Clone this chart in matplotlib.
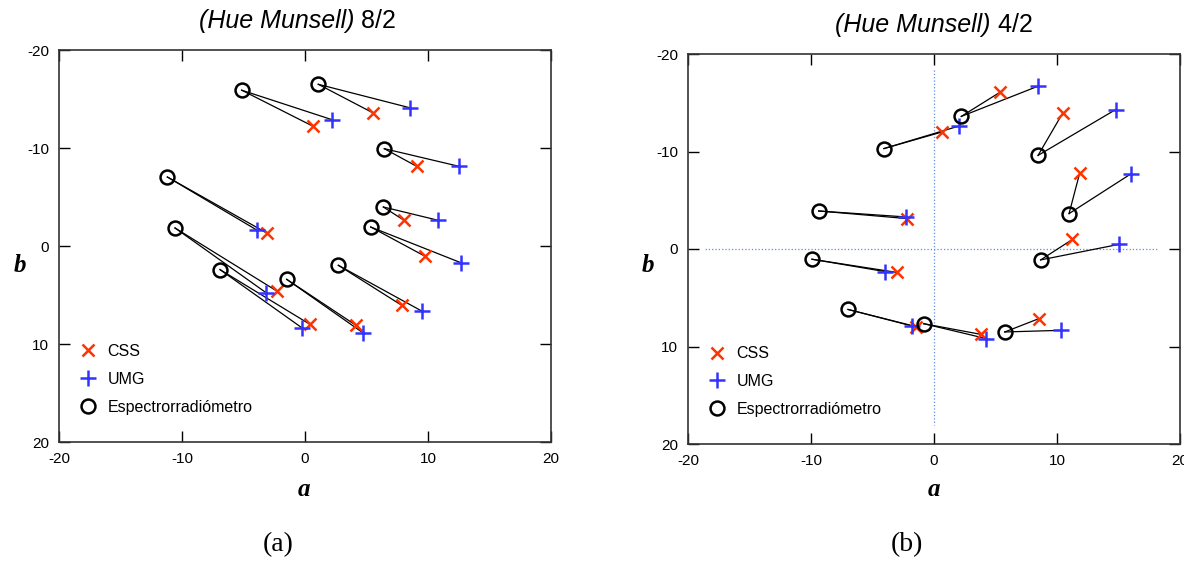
"""
CIELAB a-b comparison of spectroradiometer, CSS and UMG readings for two Munsell chips.
"""
import numpy as np
from matplotlib import pyplot as plt

# panel (a): Hue Munsell 8/2
spec_a_82 = [-5.15, 1.08, 6.45, -11.19, 6.37, 5.34, -10.57, -6.91, -1.49, 2.71]
spec_b_82 = [-15.9, -16.5, -9.93, -7.04, -3.98, -1.94, -1.84, 2.41, 3.40, 1.97]
css_a_82 = [0.68, 5.50, 9.08, -3.12, 8.05, 9.76, -2.30, 0.41, 4.15, 7.86]
css_b_82 = [-12.2, -13.6, -8.13, -1.33, -2.62, 1.05, 4.59, 8.00, 8.10, 6.05]
umg_a_82 = [2.17, 8.54, 12.52, -3.88, 10.84, 12.66, -3.17, -0.27, 4.69, 9.54]
umg_b_82 = [-12.9, -14.1, -8.13, -1.60, -2.62, 1.70, 4.76, 8.33, 8.84, 6.67]

# panel (b): Hue Munsell 4/2
spec_a_42 = [2.22, -4.07, 8.46, 10.98, -9.38, 8.67, -9.92, -6.99, -0.84, 5.75]
spec_b_42 = [-13.6, -10.3, -9.60, -3.63, -3.90, 1.12, 1.05, 6.20, 7.66, 8.51]
css_a_42 = [5.39, 0.65, 10.49, 11.84, -2.20, 11.25, -2.98, -1.44, 3.79, 8.51]
css_b_42 = [-16.1, -12.0, -14.0, -7.76, -3.12, -0.98, 2.41, 7.97, 8.75, 7.15]
umg_a_42 = [8.46, 2.00, 14.77, 15.99, -2.30, 15.01, -4.01, -1.76, 4.25, 10.35]
umg_b_42 = [-16.7, -12.6, -14.3, -7.69, -3.29, -0.47, 2.31, 7.90, 9.19, 8.34]

ticks = [-20, -10, 0, 10, 20]
labels = ["CSS", "UMG", "Espectrorradiómetro"]

RED = "#ff3300"
BLUE = "#3333ff"

plt.rcParams["font.family"] = ["Liberation Sans", "DejaVu Sans"]
plt.rcParams["axes.unicode_minus"] = False


def draw_panel(ax, spec_a, spec_b, css_a, css_b, umg_a, umg_b, title, split):
    """Draw one a-b panel with connecting segments."""
    for i in range(len(spec_a)):
        ax.plot([spec_a[i], css_a[i]], [spec_b[i], css_b[i]], color="black",
                lw=0.9, zorder=2)
        ax.plot([spec_a[i], umg_a[i]], [spec_b[i], umg_b[i]], color="black",
                lw=0.9, zorder=2)

    ax.plot(css_a, css_b, ls="none", marker="x", ms=9, mew=1.8, color=RED,
            label=labels[0], zorder=3)
    ax.plot(umg_a, umg_b, ls="none", marker="+", ms=12, mew=1.8, color=BLUE,
            label=labels[1], zorder=3)
    ax.plot(spec_a, spec_b, ls="none", marker="o", ms=10, mew=1.8,
            mfc="none", mec="black", label=labels[2], zorder=4)

    ax.set_xlim(-20, 20)
    ax.set_ylim(20, -20)
    ax.set_xticks(ticks)
    ax.set_yticks(ticks)
    ax.tick_params(direction="in", length=8, width=1, top=True, right=True,
                   labelsize=11, pad=7)
    for sp in ax.spines.values():
        sp.set_linewidth(1.2)
        sp.set_color("#333333")

    ax.text(split, 1.056, "(Hue Munsell)", transform=ax.transAxes,
            ha="right", va="baseline", fontsize=18, style="italic")
    ax.text(split, 1.056, " " + title, transform=ax.transAxes,
            ha="left", va="baseline", fontsize=18)

    ax.legend(loc="lower left", bbox_to_anchor=(0.035, 0.07), frameon=False,
              fontsize=11.5, handletextpad=0.45, labelspacing=0.8,
              handlelength=1.5, borderaxespad=0, borderpad=0)


fig = plt.figure(figsize=(11.84, 5.62), dpi=100)
ax1 = fig.add_axes([59 / 1184, 1 - 442 / 562, 492 / 1184, 392 / 562])
ax2 = fig.add_axes([688 / 1184, 1 - 444 / 562, 492 / 1184, 390 / 562])

draw_panel(ax1, spec_a_82, spec_b_82, css_a_82, css_b_82, umg_a_82, umg_b_82,
           "8/2", 0.60)
draw_panel(ax2, spec_a_42, spec_b_42, css_a_42, css_b_42, umg_a_42, umg_b_42,
           "4/2", 0.615)

# reference axes on panel (b)
ax2.plot([0, 0], [-18.4, 18.0], color="#5b8fe6", lw=0.9, ls=":", zorder=1)
ax2.plot([-18.6, 18.2], [0, 0], color="#5b8fe6", lw=0.9, ls=":", zorder=1)

serif = ["Liberation Serif", "DejaVu Serif"]
for x in (304, 934):
    fig.text(x / 1184, 1 - 490 / 562, "a", ha="center", va="center",
             family=serif, fontsize=18, weight="bold", style="italic")
for x in (20, 648):
    fig.text(x / 1184, 1 - 265 / 562, "b", ha="center", va="center",
             family=serif, fontsize=18, weight="bold", style="italic")
fig.text(278 / 1184, 1 - 545 / 562, "(a)", ha="center", va="center",
         family=serif, fontsize=20)
fig.text(907 / 1184, 1 - 545 / 562, "(b)", ha="center", va="center",
         family=serif, fontsize=20)

fig.savefig("out.png", dpi=100)
